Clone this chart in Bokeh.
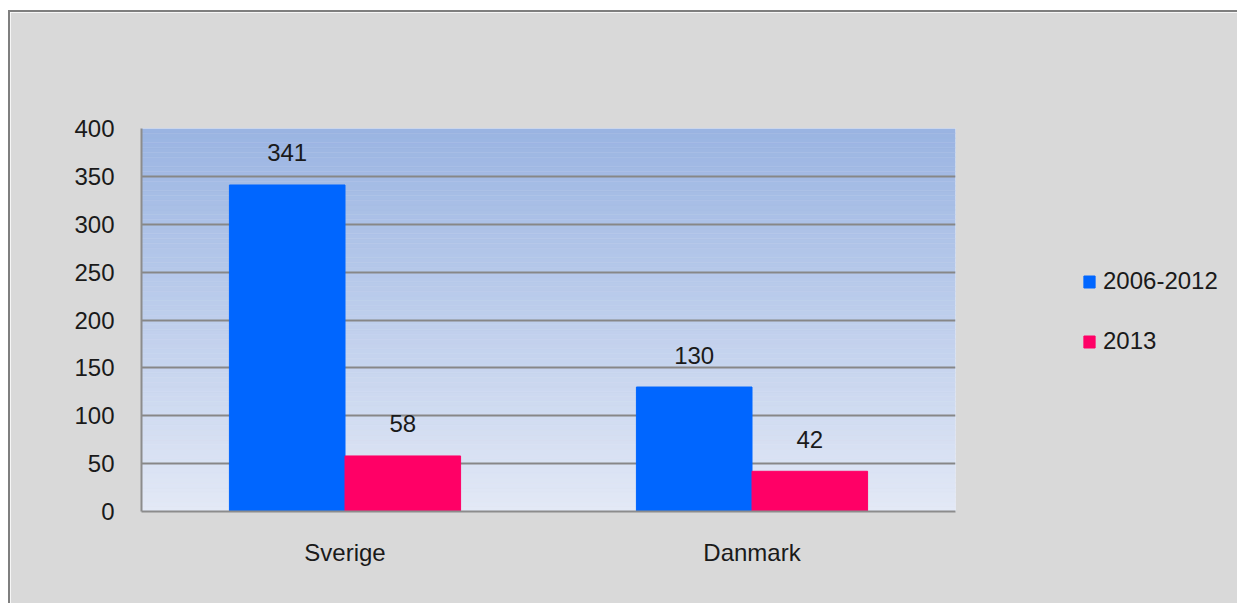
from bokeh.plotting import figure
from bokeh.models import (FactorRange, ColumnDataSource, LabelSet, Legend, LegendItem,
                          FixedTicker, BoxAnnotation)
from bokeh.core.properties import value
from bokeh.transform import dodge
from bokeh.embed import file_html
from bokeh.resources import INLINE

categories = ["Sverige", "Danmark"]
series_names = ["2006-2012", "2013"]
values_2006_2012 = [341, 130]
values_2013 = [58, 42]
y_ticks = [0, 50, 100, 150, 200, 250, 300, 350, 400]

FONT = "Liberation Sans"
FS = "24px"
BLUE = "#0066ff"
PINK = "#ff0066"

p = figure(x_range=FactorRange(*categories), y_range=(0, 400),
           frame_width=814, frame_height=383, output_backend="svg", toolbar_location=None,
           min_border_left=131, min_border_top=116, min_border_bottom=92,
           min_border_right=282)
p.styles = {"border-top": "2px solid #7f7f7f", "border-left": "2px solid #7f7f7f",
            "margin-left": "8px", "margin-top": "10px"}
p.border_fill_color = "#d9d9d9"
p.background_fill_color = "#e2e8f5"
p.outline_line_color = None

# vertical gradient in the plot area (decoration)
top_rgb = (0x9a, 0xb4, 0xe2)
bot_rgb = (0xe3, 0xe9, 0xf6)
n = 80
for i in range(n):
    t = (i + 0.5) / n
    c = "#%02x%02x%02x" % tuple(int(round(bot_rgb[k] + (top_rgb[k] - bot_rgb[k]) * t)) for k in range(3))
    p.add_layout(BoxAnnotation(bottom=400 * i / n, top=400 * (i + 1) / n,
                               fill_color=c, fill_alpha=1,
                               line_color=c, line_width=1, level="image"))

src = ColumnDataSource(dict(cat=categories, a=values_2006_2012, b=values_2013,
                            la=[str(v) for v in values_2006_2012],
                            lb=[str(v) for v in values_2013]))
bw = 0.284
r1 = p.vbar(x=dodge("cat", -bw / 2, range=p.x_range), top="a", width=bw, source=src,
            fill_color=BLUE, line_color=BLUE)
r2 = p.vbar(x=dodge("cat", bw / 2, range=p.x_range), top="b", width=bw, source=src,
            fill_color=PINK, line_color=PINK)

for ycol, tcol, off in [("a", "la", -bw / 2), ("b", "lb", bw / 2)]:
    p.add_layout(LabelSet(x=dodge("cat", off, range=p.x_range), y=ycol, text=tcol, source=src,
                          y_offset=32, text_align="center", text_baseline="middle",
                          text_font=value(FONT), text_font_size=value(FS),
                          text_color="#1a1a1a"))

p.yaxis.ticker = FixedTicker(ticks=y_ticks)
for ax in (p.xaxis, p.yaxis):
    ax.axis_line_color = "#8c8c8c"
    ax.axis_line_width = 2
    ax.major_tick_line_color = None
    ax.minor_tick_line_color = None
    ax.major_label_text_font = FONT
    ax.major_label_text_font_size = FS
    ax.major_label_text_color = "#1a1a1a"
p.yaxis.major_label_standoff = 21
p.xaxis.major_label_standoff = 21
p.xgrid.grid_line_color = None
p.ygrid.grid_line_color = "#878787"
p.ygrid.grid_line_width = 2
p.ygrid.ticker = FixedTicker(ticks=y_ticks)

legend = Legend(items=[LegendItem(label=series_names[0], renderers=[r1]),
                       LegendItem(label=series_names[1], renderers=[r2])],
                location=(127, 156), orientation="vertical",
                background_fill_alpha=0, border_line_color=None,
                label_text_font=FONT, label_text_font_size=FS, label_text_color="#1a1a1a",
                glyph_width=14, glyph_height=15, label_height=20, spacing=32,
                label_standoff=7, padding=0, margin=0)
p.add_layout(legend, "right")

open("out.html", "w").write(file_html(p, INLINE))
